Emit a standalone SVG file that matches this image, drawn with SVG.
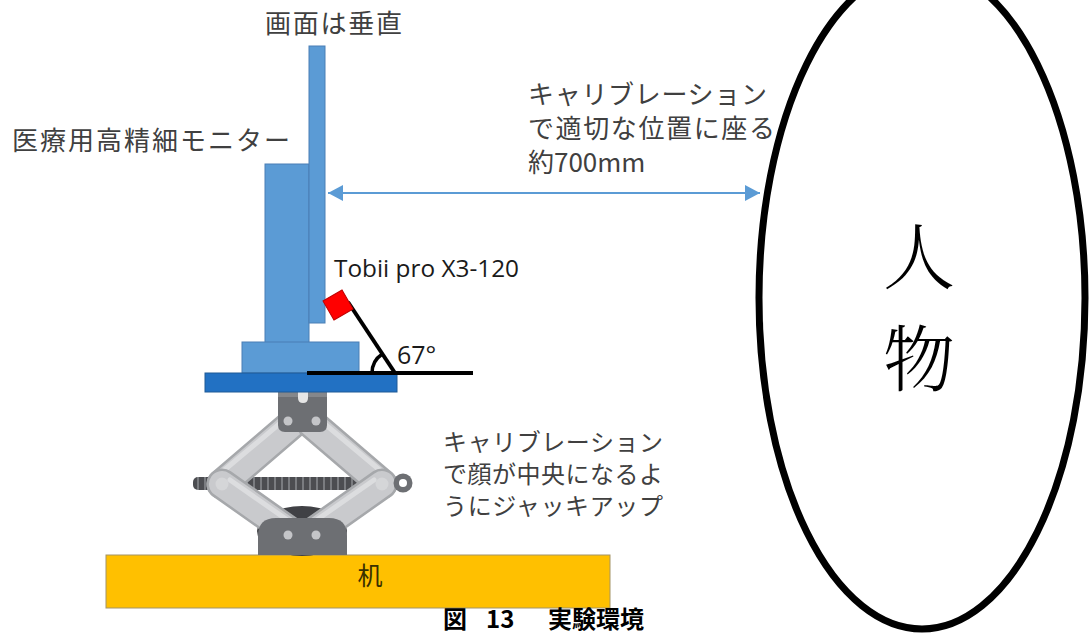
<svg xmlns="http://www.w3.org/2000/svg" width="1089" height="636" viewBox="0 0 1089 636">
  <defs>
    <style>
      .jp { font-family: "Noto Sans CJK JP", "Noto Sans", sans-serif; fill: #404040; }
      .lat { font-family: "Open Sans", "Noto Sans", "Liberation Sans", sans-serif; fill: #1a1a1a; }
      .mon { fill: #5B9BD5; stroke: #4A7FB5; stroke-width: 1; }
      .blk { stroke: #000; stroke-width: 4; fill: none; }
      .armOut { stroke: #A6A8AB; stroke-width: 31; stroke-linecap: round; fill: none; }
      .armIn { stroke: #C9CACD; stroke-width: 26; stroke-linecap: round; fill: none; }
      .armHi { stroke: #DCDDDF; stroke-width: 5; stroke-linecap: round; fill: none; }
      .steel { fill: #6D6F73; }
      .dot { fill: #C4C5C8; }
      .cap { font-family: "Noto Sans CJK JP", sans-serif; font-weight: bold; fill: #000; }
    </style>
    <marker id="tri" viewBox="0 0 15 16" refX="15" refY="8" markerWidth="15" markerHeight="16" markerUnits="userSpaceOnUse" orient="auto-start-reverse">
      <path d="M0,0 L15,8 L0,16 z" fill="#5B9BD5"/>
    </marker>
    <pattern id="thread" x="193" y="477" width="7" height="13" patternUnits="userSpaceOnUse">
      <rect width="7" height="13" fill="#4C4D51"/>
      <rect x="4" width="2" height="13" fill="#7A7C80"/>
    </pattern>
  </defs>

  <rect width="1089" height="636" fill="#fff"/>

  <!-- desk -->
  <g id="desk">
    <rect x="106" y="555" width="504" height="53" fill="#FFC000" stroke="#A39466" stroke-width="1"/>
    <text class="jp" x="370" y="585" font-size="25" text-anchor="middle" style="fill:#3a3000">机</text>
  </g>

  <!-- scissor jack -->
  <g id="jack">
    <rect x="193" y="477" width="208" height="13" rx="5" fill="url(#thread)"/>
    <ellipse cx="302" cy="531" rx="45" ry="25" fill="#404145"/>
    <!-- upper arms -->
    <line class="armOut" x1="292" y1="424" x2="222" y2="484"/>
    <line class="armIn" x1="292" y1="424" x2="222" y2="484"/>
    <line class="armHi" x1="284" y1="420" x2="216" y2="477"/>
    <line class="armOut" x1="312" y1="424" x2="382" y2="484"/>
    <line class="armIn" x1="312" y1="424" x2="382" y2="484"/>
    <line class="armHi" x1="320" y1="420" x2="388" y2="477"/>
    <!-- lower arms -->
    <line class="armOut" x1="222" y1="484" x2="290" y2="532"/>
    <line class="armIn" x1="222" y1="484" x2="290" y2="532"/>
    <line class="armHi" x1="230" y1="480" x2="296" y2="526"/>
    <line class="armOut" x1="382" y1="484" x2="314" y2="532"/>
    <line class="armIn" x1="382" y1="484" x2="314" y2="532"/>
    <line class="armHi" x1="374" y1="480" x2="308" y2="526"/>
    <!-- top saddle -->
    <path class="steel" d="M278,392 H327 V425 Q327,432 320,432 H285 Q278,432 278,425 Z"/>
    <rect x="278" y="392" width="49" height="5" fill="#85878B"/>
    <path d="M298,392 H308 V398 Q308,403 303,403 Q298,403 298,398 Z" fill="#E6E6E6"/>
    <circle class="dot" cx="288" cy="421" r="4.5"/>
    <circle class="dot" cx="316" cy="421" r="4.5"/>
    <!-- base -->
    <path class="steel" d="M258,555 V536 Q258,518 276,518 H329 Q347,518 347,536 V555 Z"/>
    <circle class="dot" cx="288" cy="535" r="4.5"/>
    <circle class="dot" cx="316" cy="535" r="4.5"/>
    <!-- pivots and crank eye -->
    <circle cx="222" cy="484" r="6.5" fill="#D5D6D8"/>
    <circle cx="382" cy="484" r="6.5" fill="#D5D6D8"/>
    <circle cx="403" cy="483" r="9.5" fill="#6D6F73"/>
    <circle cx="403" cy="483" r="4" fill="#fff"/>
  </g>

  <!-- monitor on its stand -->
  <g id="monitor">
    <rect class="mon" x="265" y="164" width="44" height="179"/>
    <rect class="mon" x="309" y="46" width="16" height="277"/>
    <rect class="mon" x="242" y="342" width="117" height="31"/>
    <rect x="205" y="373" width="192" height="19" fill="#2271C3" stroke="#1F5A96" stroke-width="1"/>
  </g>

  <!-- eye tracker and its mount -->
  <g id="tracker">
    <line class="blk" x1="307" y1="373" x2="473" y2="373"/>
    <line class="blk" x1="348" y1="302" x2="395" y2="373"/>
    <path d="M372,373 A23,23 0 0 1 382.3,354" stroke="#000" stroke-width="3.5" fill="none"/>
    <rect x="327" y="294" width="22" height="22" fill="#FF0000" stroke="#C00000" stroke-width="1" transform="rotate(-30 338 305)"/>
    <text class="lat" x="334" y="277" font-size="23" textLength="185" lengthAdjust="spacingAndGlyphs">Tobii pro X3-120</text>
    <text class="lat" x="397" y="364" font-size="25">67°</text>
  </g>

  <!-- person -->
  <g id="person">
    <ellipse cx="922" cy="298" rx="163" ry="331" fill="#fff" stroke="#000" stroke-width="7"/>
    <text x="919" y="283" font-size="72" text-anchor="middle" font-family="Noto Serif CJK JP, Noto Sans CJK JP, serif" font-weight="300" fill="#000">人</text>
    <text x="919" y="385" font-size="72" text-anchor="middle" font-family="Noto Serif CJK JP, Noto Sans CJK JP, serif" font-weight="300" fill="#000">物</text>
  </g>

  <!-- distance connector -->
  <g id="connectors">
    <line x1="328" y1="193" x2="760" y2="193" stroke="#5B9BD5" stroke-width="2" marker-start="url(#tri)" marker-end="url(#tri)"/>
  </g>

  <!-- labels -->
  <g id="labels">
    <text class="jp" x="265" y="33" font-size="26" textLength="137">画面は垂直</text>
    <text class="jp" x="12" y="150" font-size="26" textLength="278">医療用高精細モニター</text>
    <text class="jp" x="528" y="104" font-size="26" textLength="239">キャリブレーション</text>
    <text class="jp" x="528" y="138" font-size="26" textLength="247">で適切な位置に座る</text>
    <text class="jp" x="528" y="172" font-size="26">約700mm</text>
    <text class="jp" x="443" y="451" font-size="24" textLength="220">キャリブレーション</text>
    <text class="jp" x="443" y="483" font-size="24" textLength="220">で顔が中央になるよ</text>
    <text class="jp" x="443" y="515" font-size="24" textLength="220">うにジャッキアップ</text>
  </g>

  <!-- caption -->
  <g id="caption">
    <text class="cap" y="628" font-size="24"><tspan x="443">図</tspan><tspan x="486">13</tspan><tspan x="548">実験環境</tspan></text>
  </g>
</svg>
